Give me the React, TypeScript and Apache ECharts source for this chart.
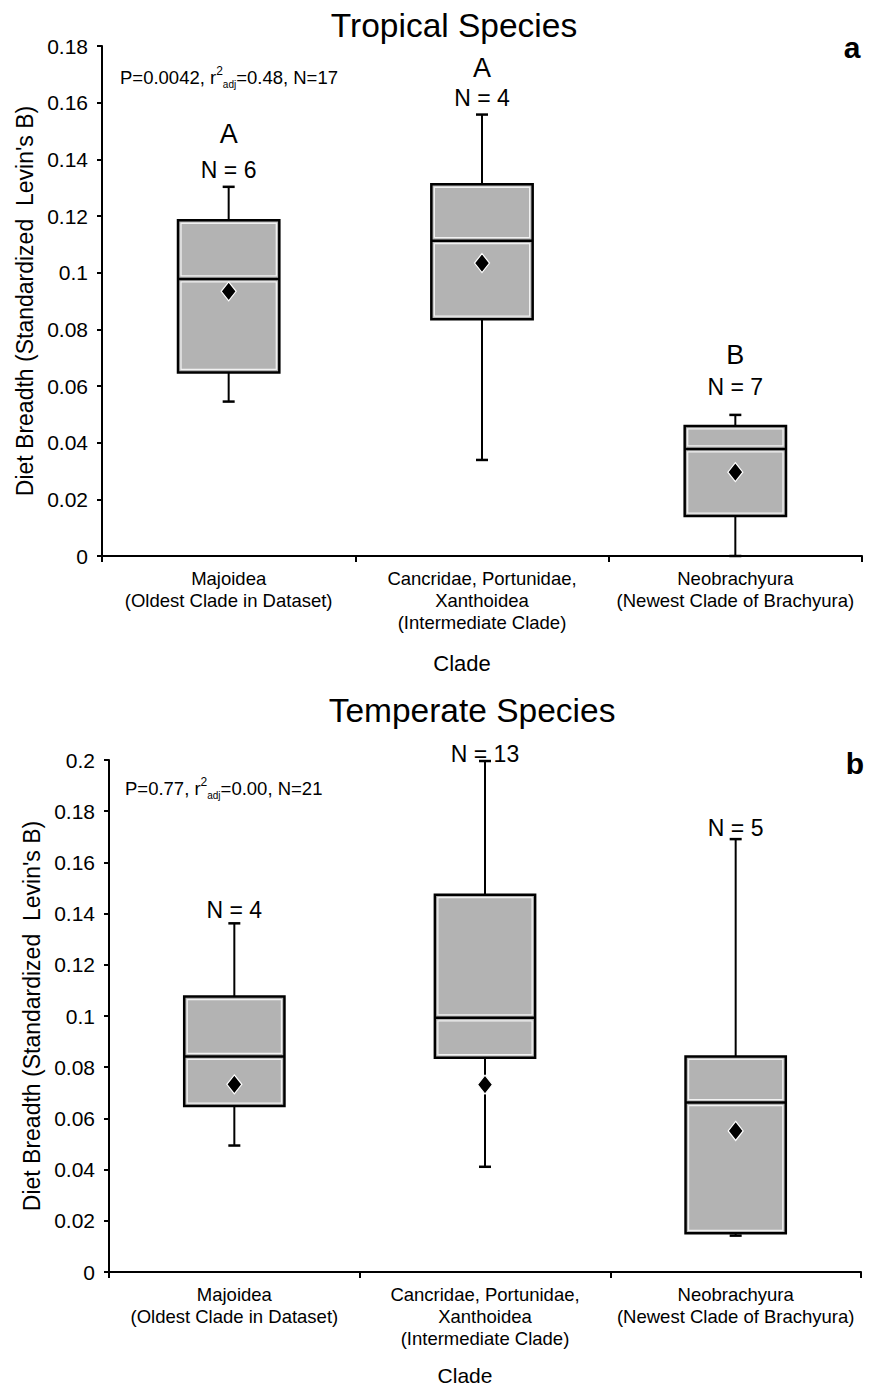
import React, { useEffect, useRef } from "react";
import * as echarts from "echarts";

const FONT = '"Liberation Sans", Arial, Helvetica, sans-serif';

// Categories (x axis)
const categories = [
  "Majoidea\n(Oldest Clade in Dataset)",
  "Cancridae, Portunidae,\nXanthoidea\n(Intermediate Clade)",
  "Neobrachyura\n(Newest Clade of Brachyura)",
];

// Panel a: Tropical species
const tropicalWhiskerLow = [0.0545, 0.0339, 0.0];
const tropicalQ1 = [0.0648, 0.0836, 0.0141];
const tropicalMedian = [0.0978, 0.1113, 0.0378];
const tropicalQ3 = [0.1185, 0.1312, 0.0459];
const tropicalWhiskerHigh = [0.1303, 0.1558, 0.0498];
const tropicalMean = [0.0934, 0.1034, 0.0296];
const tropicalN = ["N = 6", "N = 4", "N = 7"];
const tropicalLetters = ["A", "A", "B"];
const tropicalNAt = [0.1364, 0.1618, 0.0597];
const tropicalLetterAt = [0.1488, 0.1724, 0.071];
const tropicalYTicks = { min: 0, max: 0.18, interval: 0.02 };

// Panel b: Temperate species
const temperateWhiskerLow = [0.0494, 0.0411, 0.0142];
const temperateQ1 = [0.0648, 0.0837, 0.0151];
const temperateMedian = [0.0842, 0.0993, 0.0662];
const temperateQ3 = [0.1076, 0.1474, 0.0842];
const temperateWhiskerHigh = [0.1362, 0.1996, 0.1691];
const temperateMean = [0.0733, 0.0732, 0.0551];
const temperateN = ["N = 4", "N = 13", "N = 5"];
const temperateLetters = ["", "", ""];
const temperateNAt = [0.1415, 0.2025, 0.1736];
const temperateLetterAt = [0, 0, 0];
const temperateYTicks = { min: 0, max: 0.2, interval: 0.02 };

const BOX_FILL = "#b3b3b3";

function buildData(wl: number[], q1: number[], med: number[], q3: number[], wh: number[], mean: number[]) {
  return categories.map((_, i) => [i, wl[i], q1[i], med[i], q3[i], wh[i], mean[i]]);
}

function boxSeries(
  gridIndex: number,
  data: number[][],
  nLabels: string[],
  nAt: number[],
  letters: string[],
  letterAt: number[]
) {
  return {
    type: "custom",
    xAxisIndex: gridIndex,
    yAxisIndex: gridIndex,
    data,
    encode: { x: 0, y: [1, 2, 3, 4, 5, 6] },
    clip: false,
    renderItem: (params: any, api: any) => {
      const i = api.value(0);
      const wl = api.value(1);
      const q1 = api.value(2);
      const med = api.value(3);
      const q3 = api.value(4);
      const wh = api.value(5);
      const mean = api.value(6);
      const cx = api.coord([i, med])[0];
      const band = api.size([1, 0])[0];
      const half = band * 0.2;
      const y = (v: number) => api.coord([i, v])[1];
      const yWl = y(wl), yQ1 = y(q1), yMed = y(med), yQ3 = y(q3), yWh = y(wh), yMean = y(mean);
      const cap = 6;
      const ins = 3;
      const children: any[] = [
        { type: "line", shape: { x1: cx, y1: yQ3, x2: cx, y2: yWh }, style: { stroke: "#000", lineWidth: 2 } },
        { type: "line", shape: { x1: cx - cap, y1: yWh, x2: cx + cap, y2: yWh }, style: { stroke: "#000", lineWidth: 2.5 } },
        { type: "line", shape: { x1: cx, y1: yQ1, x2: cx, y2: yWl }, style: { stroke: "#000", lineWidth: 2 } },
        { type: "line", shape: { x1: cx - cap, y1: yWl, x2: cx + cap, y2: yWl }, style: { stroke: "#000", lineWidth: 2.5 } },
        {
          type: "rect",
          shape: { x: cx - half, y: yQ3, width: half * 2, height: yQ1 - yQ3 },
          style: { fill: BOX_FILL, stroke: "#000", lineWidth: 2.5 },
        },
        {
          type: "rect",
          shape: { x: cx - half + ins, y: yQ3 + ins, width: half * 2 - 2 * ins, height: Math.max(0, yMed - yQ3 - 2 * ins) },
          style: { fill: "none", stroke: "#f2f2f2", lineWidth: 1.3 },
        },
        {
          type: "rect",
          shape: { x: cx - half + ins, y: yMed + ins, width: half * 2 - 2 * ins, height: Math.max(0, yQ1 - yMed - 2 * ins) },
          style: { fill: "none", stroke: "#f2f2f2", lineWidth: 1.3 },
        },
        { type: "line", shape: { x1: cx - half, y1: yMed, x2: cx + half, y2: yMed }, style: { stroke: "#000", lineWidth: 2.5 } },
        {
          type: "polygon",
          shape: { points: [[cx, yMean - 9.5], [cx + 7.5, yMean], [cx, yMean + 9.5], [cx - 7.5, yMean]] },
          style: { fill: "#000", stroke: "#ffffff", lineWidth: 1.2 },
        },
      ];
      const di = params.dataIndex;
      if (nLabels[di]) {
        children.push({
          type: "text",
          x: cx,
          y: y(nAt[di]),
          style: { text: nLabels[di], fontSize: 23, fontFamily: FONT, fill: "#000", align: "center", verticalAlign: "middle" },
        });
      }
      if (letters[di]) {
        children.push({
          type: "text",
          x: cx,
          y: y(letterAt[di]),
          style: { text: letters[di], fontSize: 27, fontFamily: FONT, fill: "#000", align: "center", verticalAlign: "middle" },
        });
      }
      return { type: "group", children };
    },
  };
}

function xAxisCfg(gridIndex: number) {
  return {
    type: "category",
    gridIndex,
    data: categories,
    boundaryGap: true,
    axisLine: { show: true, lineStyle: { color: "#000", width: 2 } },
    axisTick: { show: true, length: 6, lineStyle: { color: "#000", width: 2 } },
    axisLabel: { color: "#000", fontSize: 18.5, lineHeight: 22, margin: 11, fontFamily: FONT, interval: 0 },
    splitLine: { show: false },
  };
}

function yAxisCfg(gridIndex: number, ticks: { min: number; max: number; interval: number }) {
  return {
    type: "value",
    gridIndex,
    min: ticks.min,
    max: ticks.max,
    interval: ticks.interval,
    name: "Diet Breadth (Standardized  Levin's B)",
    nameLocation: "middle",
    nameGap: 58,
    nameTextStyle: { fontSize: 23, color: "#000", fontFamily: FONT },
    axisLine: { show: true, lineStyle: { color: "#000", width: 2 } },
    axisTick: { show: true, length: 5, lineStyle: { color: "#000", width: 2 } },
    axisLabel: {
      color: "#000",
      fontSize: 21,
      margin: 14,
      fontFamily: FONT,
      formatter: (v: number) => (v === 0 ? "0" : String(+v.toFixed(2))),
    },
    splitLine: { show: false },
  };
}

function statsText(x: number, y: number, p: string, r: string, n: string) {
  return {
    type: "text",
    x,
    y,
    style: {
      text: `{m|P=${p}, r}{sup|2}{sub|adj}{m|=${r}, N=${n}}`,
      verticalAlign: "middle",
      align: "left",
      fontFamily: FONT,
      rich: {
        m: { fontSize: 18.5, fontFamily: FONT, fill: "#000", lineHeight: 24 },
        sup: { fontSize: 12, fontFamily: FONT, fill: "#000", lineHeight: 12, verticalAlign: "top" },
        sub: { fontSize: 10, fontFamily: FONT, fill: "#000", lineHeight: 10, verticalAlign: "bottom" },
      },
    },
  };
}

function plainText(x: number, y: number, text: string, fontSize: number, bold = false) {
  return {
    type: "text",
    x,
    y,
    style: {
      text,
      fontSize,
      fontWeight: bold ? "bold" : "normal",
      fontFamily: FONT,
      fill: "#000",
      align: "center",
      verticalAlign: "middle",
    },
  };
}

export default function App() {
  const ref = useRef<HTMLDivElement>(null);
  useEffect(() => {
    document.body.style.margin = "0";
    if (!ref.current) return;
    const chart = echarts.init(ref.current, null, { renderer: "svg" });
    chart.setOption({
      animation: false,
      backgroundColor: "#ffffff",
      textStyle: { fontFamily: FONT },
      grid: [
        { left: 102, top: 46, width: 760, height: 510 },
        { left: 109, top: 760, width: 752, height: 512 },
      ],
      xAxis: [xAxisCfg(0), xAxisCfg(1)],
      yAxis: [yAxisCfg(0, tropicalYTicks), yAxisCfg(1, temperateYTicks)],
      series: [
        boxSeries(
          0,
          buildData(tropicalWhiskerLow, tropicalQ1, tropicalMedian, tropicalQ3, tropicalWhiskerHigh, tropicalMean),
          tropicalN,
          tropicalNAt,
          tropicalLetters,
          tropicalLetterAt
        ),
        boxSeries(
          1,
          buildData(temperateWhiskerLow, temperateQ1, temperateMedian, temperateQ3, temperateWhiskerHigh, temperateMean),
          temperateN,
          temperateNAt,
          temperateLetters,
          temperateLetterAt
        ),
      ],
      graphic: [
        plainText(454, 25, "Tropical Species", 33.5),
        plainText(472, 710, "Temperate Species", 33.5),
        plainText(852, 47, "a", 30, true),
        plainText(855, 763, "b", 30, true),
        plainText(462, 663, "Clade", 22),
        plainText(465, 1375, "Clade", 21),
        statsText(120, 77, "0.0042", "0.48", "17"),
        statsText(125, 788, "0.77", "0.00", "21"),
      ],
    });
    return () => chart.dispose();
  }, []);
  return <div ref={ref} style={{ width: 869, height: 1390 }} />;
}
